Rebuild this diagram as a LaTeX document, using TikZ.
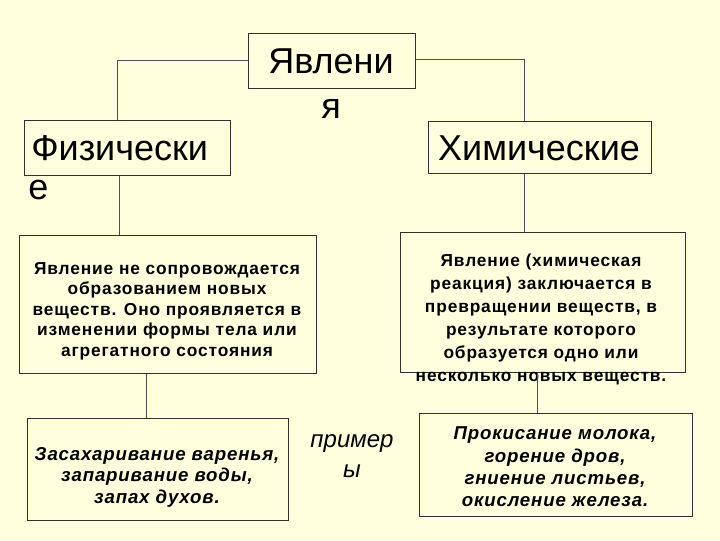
\documentclass[tikz,border=0pt]{standalone}
\usepackage{fontspec}
\setmainfont{Liberation Sans}
\newfontfamily\spbold[LetterSpace=5]{Liberation Sans}
\newfontfamily\spital[LetterSpace=4.5]{Liberation Sans}
\definecolor{bgc}{HTML}{FFFFDD}
\definecolor{edge}{HTML}{303030}
\definecolor{wire}{HTML}{505050}
\tikzset{
  box/.style={draw=edge, line width=0.75pt, inner sep=0pt},
  wirel/.style={draw=wire, line width=0.6pt},
  bigtxt/.style={font=\fontsize{27}{32}\selectfont, inner sep=0pt},
  boldtxt/.style={font=\spbold\fontsize{13}{15.4}\selectfont\bfseries, align=center, inner sep=0pt},
  itxt/.style={font=\spital\fontsize{14}{16.1}\selectfont\bfseries\itshape, align=center, inner sep=0pt},
}
\begin{document}
\begin{tikzpicture}[x=0.75pt,y=-0.75pt]
\useasboundingbox (0,0) rectangle (720,540);
\fill[bgc] (0,0) rectangle (720,540);
% boxes
\node[box, minimum width=167*0.75pt, minimum height=55*0.75pt] (yav) at (331.5,60.5) {};
\node[box, minimum width=206*0.75pt, minimum height=55*0.75pt] (fiz) at (127,147.5) {};
\node[box, minimum width=223*0.75pt, minimum height=52*0.75pt] (him) at (539.5,147) {};
\node[box, minimum width=297*0.75pt, minimum height=138*0.75pt] (b3) at (167.5,304) {};
\node[box, minimum width=285*0.75pt, minimum height=140*0.75pt] (b4) at (542.5,302) {};
\node[box, minimum width=261*0.75pt, minimum height=102*0.75pt] (b5) at (157.5,469) {};
\node[box, minimum width=273*0.75pt, minimum height=103*0.75pt] (b6) at (555.5,464.5) {};
% texts
\node[bigtxt] (t1) at (331,61) {Явлени};
\node[bigtxt] (t1b) at (331,109) {я};
\node[bigtxt, anchor=west] (t2) at (31,148) {Физически};
\node[bigtxt, anchor=west] (t2b) at (28,190) {е};
\node[bigtxt] (t3) at (539,148) {Химические};
\node[boldtxt] (t4) at (167,311) {Явление не сопровождается\\образованием новых\\веществ. Оно проявляется в\\изменении формы тела или\\агрегатного состояния};
\node[boldtxt, font=\spbold\fontsize{13}{17.25}\selectfont\bfseries] (t5) at (541,319.5) {Явление (химическая\\реакция) заключается в\\превращении веществ, в\\результате которого\\образуется одно или\\несколько новых веществ.};
\node[itxt] (t6) at (157,477) {Засахаривание варенья,\\запаривание воды,\\запах духов.};
\node[itxt, font=\spital\fontsize{14}{16.7}\selectfont\bfseries\itshape] (t7) at (555,467) {Прокисание молока,\\горение дров,\\гниение листьев,\\окисление железа.};
\node[font=\fontsize{18}{22.5}\selectfont\itshape, align=center, inner sep=0pt] (t8) at (352,456) {пример\\ы};
% connectors
\draw[wirel] (yav.west) -| ([xshift=-7.5pt]fiz.north);
\draw[wirel] ([yshift=0.75pt]yav.east) -| ([xshift=-11.6pt]him.north);
\draw[wirel] ([xshift=-6pt]fiz.south) -- ([xshift=-6pt]fiz.south |- b3.north);
\draw[wirel] ([xshift=-11.6pt]him.south) -- ([xshift=-11.6pt]him.south |- b4.north);
\draw[wirel] ([xshift=-16pt]b3.south) -- ([xshift=-16pt]b3.south |- b5.north);
\draw[wirel] ([xshift=-4pt]b4.south) -- ([xshift=-4pt]b4.south |- b6.north);
\end{tikzpicture}
\end{document}
